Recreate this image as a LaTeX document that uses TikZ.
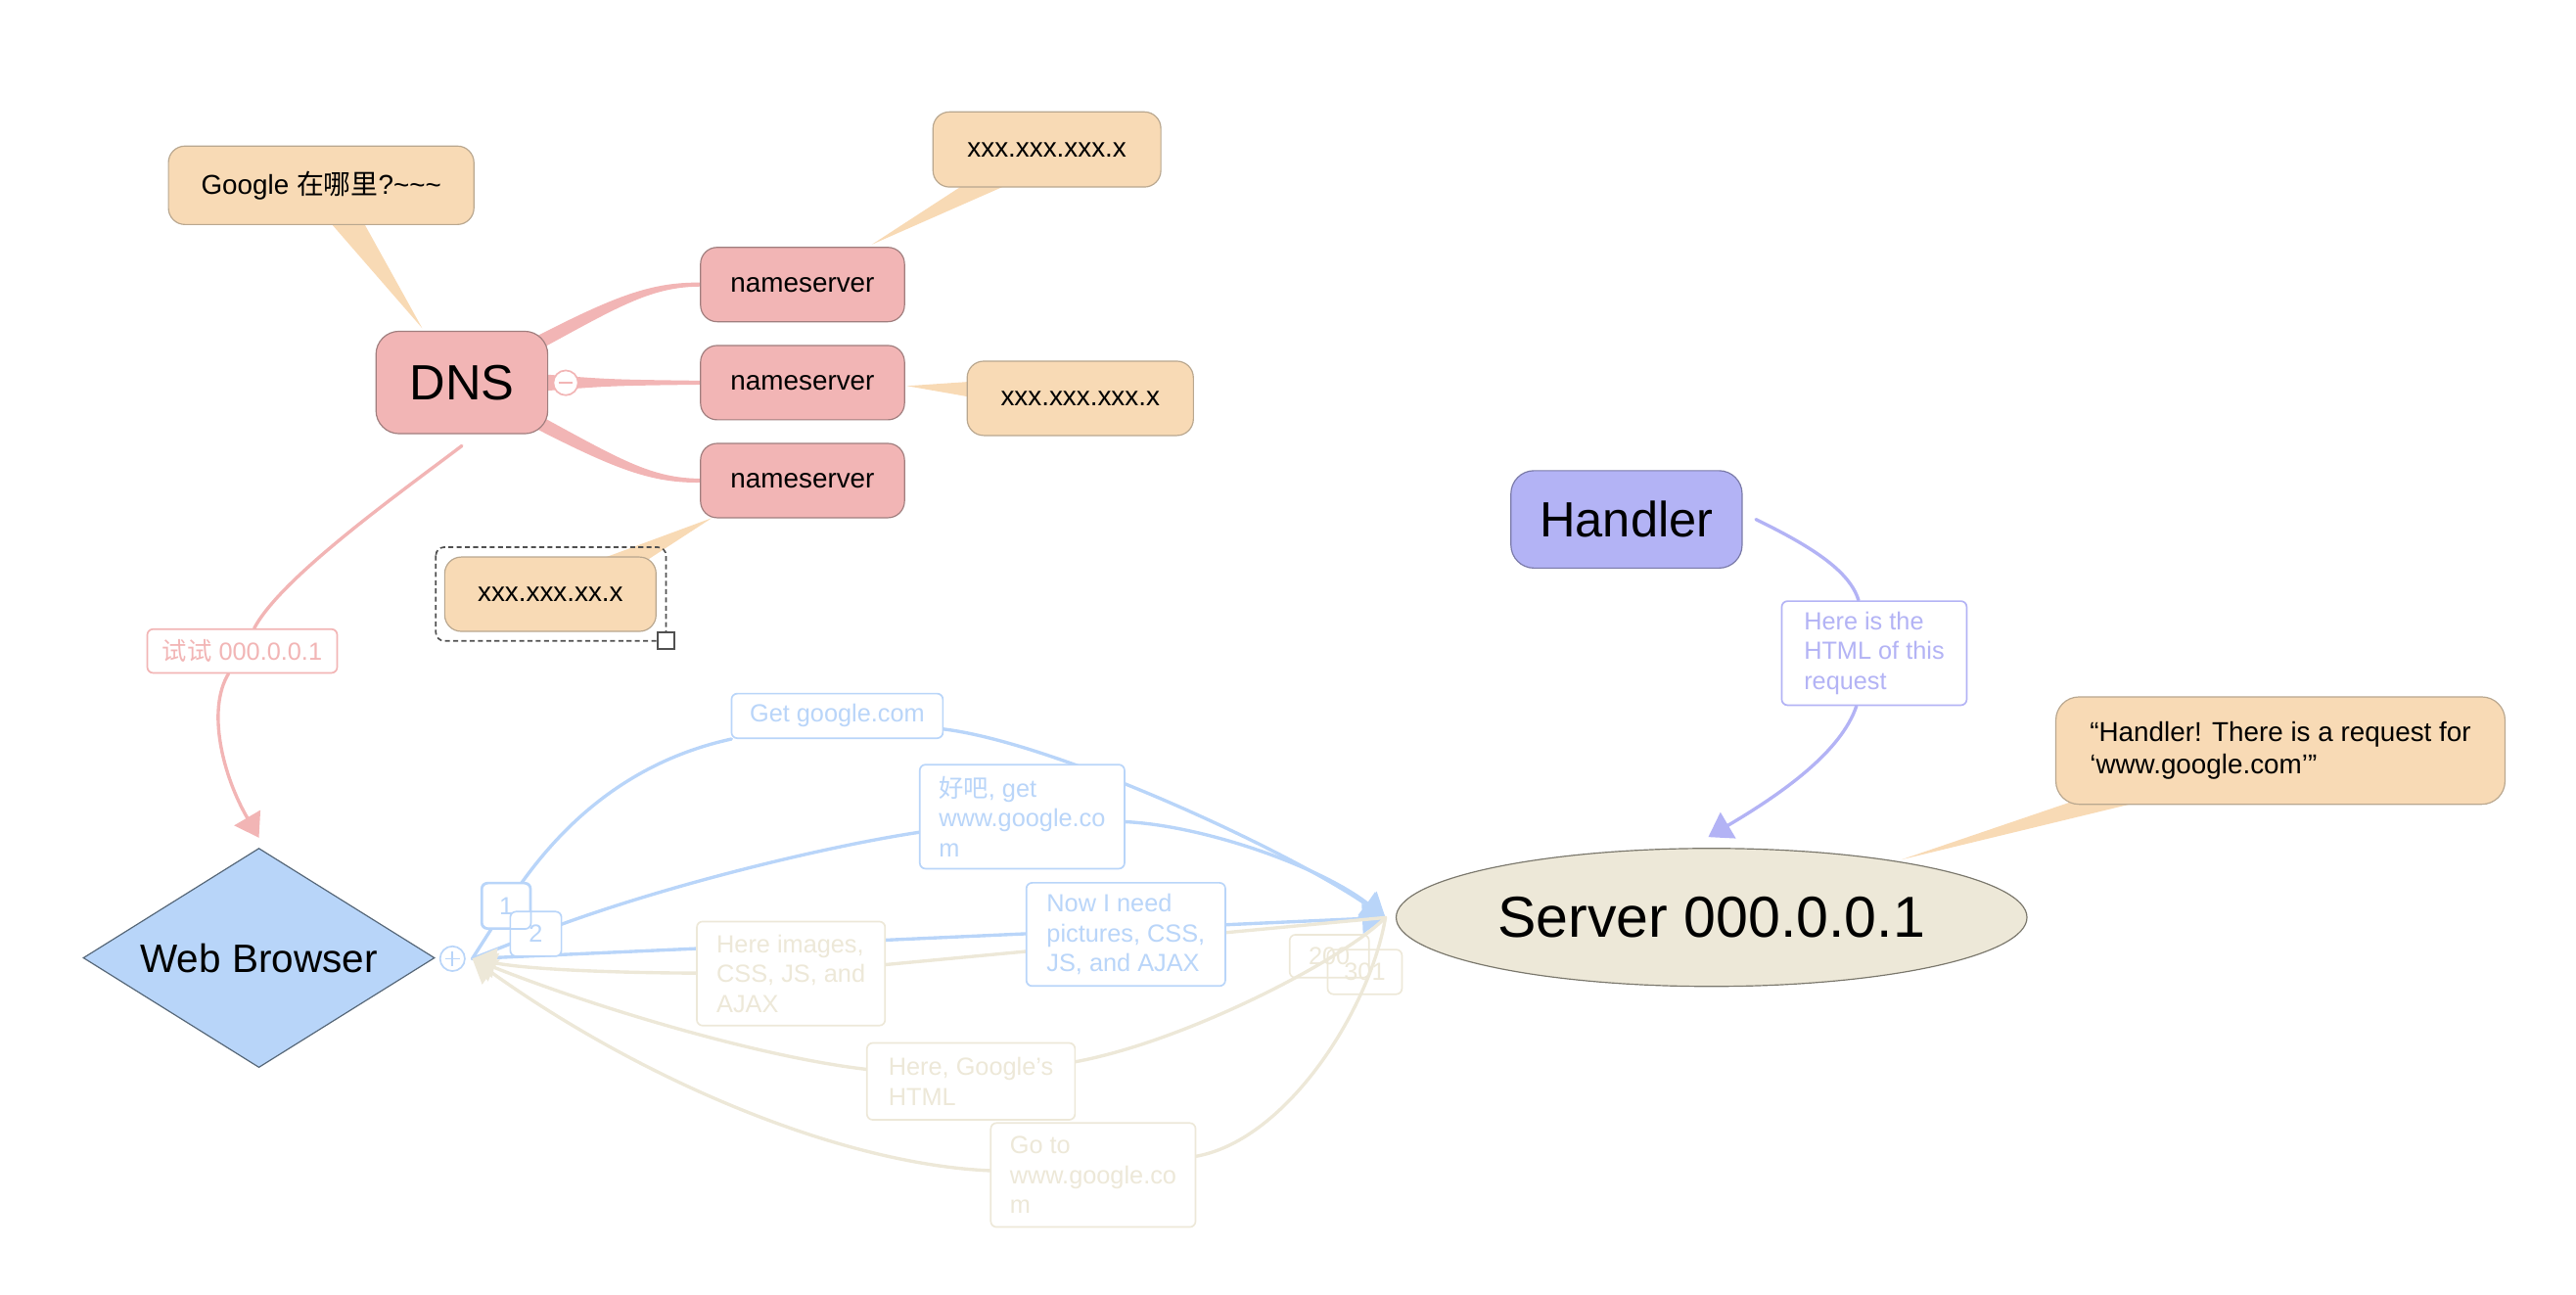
\documentclass[tikz,border=0pt]{standalone}
\usepackage{fontspec}
\setmainfont{Liberation Sans}
\newfontfamily\cjk{Noto Sans CJK SC}
\usetikzlibrary{arrows.meta,shapes.geometric,backgrounds,calc}
\definecolor{cPink}{HTML}{F2B5B5}
\definecolor{cPinkB}{HTML}{A07E7E}
\definecolor{cPeach}{HTML}{F8DAB5}
\definecolor{cPeachB}{HTML}{B9A78F}
\definecolor{cLav}{HTML}{B3B3F5}
\definecolor{cLavB}{HTML}{7A7AA8}
\definecolor{cSky}{HTML}{B8D5F9}
\definecolor{cSkyB}{HTML}{556677}
\definecolor{cBlue}{HTML}{B9D5F9}
\definecolor{cBeige}{HTML}{EDE8D8}
\definecolor{cBeigeB}{HTML}{7A776C}
\definecolor{cSel}{HTML}{505050}
\newcommand\lblfont{\fontsize{15}{18}\selectfont}
\newcommand\nodefont{\fontsize{16.5}{20}\selectfont}
\begin{document}
\begin{tikzpicture}[x=1pt,y=-1pt,
  nsbox/.style={rectangle, rounded corners=10pt, draw=cPinkB, line width=0.7pt, fill=cPink, font=\nodefont, minimum width=123.5pt, minimum height=45pt, inner sep=0pt},
  bubble/.style={rectangle, rounded corners=10pt, draw=cPeachB, line width=0.7pt, fill=cPeach, font=\nodefont, inner sep=0pt},
  lbl/.style={rectangle, rounded corners=3.5pt, line width=1pt, fill=white, font=\lblfont, align=left, inner sep=0pt},
  lblblue/.style={lbl, draw=cBlue, text=cBlue},
  lblbeige/.style={lbl, draw=cBeige, text=cBeige},
  lblpink/.style={lbl, draw=cPink, text=cPink},
  lbllav/.style={lbl, draw=cLav, text=cLav},
  con/.style={line width=2pt, line cap=round},
  arr/.style={-{Triangle[length=14pt,width=18pt]}}
]
\useasboundingbox (0,0) rectangle (1560,783.6);

% ---------- nodes ----------
\node[bubble, minimum width=185pt, minimum height=47.5pt] (gbub) at (194.5,112.2) {Google {\cjk 在哪里}?\textasciitilde\textasciitilde\textasciitilde};
\node[bubble, minimum width=138pt, minimum height=45.5pt] (xtop) at (634,90.5) {xxx.xxx.xxx.x};
\node[rectangle, rounded corners=14pt, draw=cPinkB, line width=0.7pt, fill=cPink, minimum width=104pt, minimum height=62pt, inner sep=0pt, font=\fontsize{30}{34}\selectfont] (dns) at (279.7,231.6) {DNS};
\node[nsbox] (ns1) at (486,172.3) {nameserver};
\node[nsbox] (ns2) at (486,231.7) {nameserver};
\node[nsbox] (ns3) at (486,291) {nameserver};
\node[bubble, minimum width=137pt, minimum height=45pt] (xright) at (654.2,241.2) {xxx.xxx.xxx.x};
\node[bubble, minimum width=128pt, minimum height=45pt] (xsel) at (333.3,359.8) {xxx.xxx.xx.x};
\node[lblpink, minimum width=115pt, minimum height=26.5pt] (l1) at (146.7,394.2) {{\cjk 试试} 000.0.0.1};

\node[diamond, draw=cSkyB, fill=cSky, line width=0.7pt, minimum width=212.8pt, minimum height=132.8pt, aspect=1.6, inner sep=0pt, font=\fontsize{24}{28}\selectfont] (browser) at (156.8,580) {Web Browser};

\node[rectangle, rounded corners=14pt, draw=cLavB, fill=cLav, line width=0.7pt, minimum width=140pt, minimum height=59pt, inner sep=0pt, font=\fontsize{30}{34}\selectfont] (handler) at (985,314.5) {Handler};
\node[lbllav, minimum width=112pt, minimum height=63pt] (lh) at (1135,395.5) {Here is the\\HTML of this\\request};
\node[bubble, rounded corners=14pt, align=left, minimum width=272pt, minimum height=65pt] (hbub) at (1381,454.5) {“Handler! There is a request for\\‘www.google.com’”};
\node[ellipse, draw=cBeigeB, fill=cBeige, line width=0.7pt, minimum width=382pt, minimum height=83.6pt, inner sep=0pt, font=\fontsize{35}{40}\selectfont] (server) at (1036.5,555.5) {Server 000.0.0.1};

\node[lblblue, minimum width=128pt, minimum height=27pt] (lget) at (507,433.5) {Get google.com};
\node[lblblue, minimum width=124pt, minimum height=63pt] (lhao) at (619,494.5) {{\cjk 好吧}, get\\www.google.co\\m};
\node[lblblue, minimum width=120.5pt, minimum height=62.5pt] (lnow) at (681.8,565.8) {Now I need\\pictures, CSS,\\JS, and AJAX};
\node[lblbeige, minimum width=114pt, minimum height=63pt] (limg) at (479,589.5) {Here images,\\CSS, JS, and\\AJAX};
\node[lblbeige, minimum width=126pt, minimum height=46.5pt] (lhtml) at (588,654.8) {Here, Google’s\\HTML};
\node[lblbeige, minimum width=124pt, minimum height=63pt] (lgo) at (662,711.5) {Go to\\www.google.co\\m};
\node[lblbeige, fill=none, minimum width=48pt, minimum height=26pt] (b200) at (805,579) {200};
\node[lblbeige, fill=none, minimum width=45pt, minimum height=27pt] (b301) at (826.5,588.5) {301};
\node[lblblue, minimum width=29pt, minimum height=27pt] (b1) at (306.5,548.5) {1};
\node[lblblue, minimum width=31pt, minimum height=27pt] (b2) at (324.5,565.5) {2};
\draw[cBlue, line width=1pt, rounded corners=3.5pt] (b1.south west) rectangle (b1.north east);

\node[circle, draw=cBlue, fill=white, line width=1pt, minimum size=15pt, inner sep=0pt] (plus) at (274,580.5) {};
\draw[cBlue, line width=1pt] ($(plus.center)+(-4.5,0)$) -- ($(plus.center)+(4.5,0)$) ($(plus.center)+(0,-4.5)$) -- ($(plus.center)+(0,4.5)$);
\node[circle, draw=cPink, fill=white, line width=1pt, minimum size=15pt, inner sep=0pt] (minus) at (342.6,231.8) {};
\draw[cPink, line width=1pt] ($(minus.center)+(-4.3,0)$) -- ($(minus.center)+(4.3,0)$);

\draw[cSel, line width=1pt, dash pattern=on 3pt off 2pt, rounded corners=5pt] ($(xsel.north west)+(-5,-5.6)$) rectangle ($(xsel.south east)+(5.7,5.4)$);
\node[draw=cSel, fill=white, line width=1pt, minimum size=10pt, inner sep=0pt] (handle) at ($(xsel.south east)+(5.7,5.4)$) {};

\coordinate (B) at (286,580.5);
\coordinate (S) at (839,555.6);

% ---------- connectors ----------
\begin{scope}[on background layer]
% callout wedges
\fill[cPeach] ($(gbub.south)+(6,-1)$) -- ($(gbub.south)+(26,-1)$) -- ($(dns.north)+(-24,-1.5)$) -- cycle;
\fill[cPeach] ($(xtop.south)+(-51.5,-1)$) -- ($(xtop.south)+(-25.5,-1)$) -- ($(ns1.north)+(42,-1.4)$) -- cycle;
\fill[cPeach] ($(xright.west)+(1,-10)$) -- ($(xright.west)+(1,-1)$) -- ($(ns2.east)+(1.2,2)$) -- cycle;
\fill[cPeach] ($(ns3.south west)+(7.2,-0.2)$) -- ($(xsel.north)+(30.7,1.5)$) -- ($(xsel.north)+(59.7,1.5)$) -- cycle;
\fill[cPeach] ($(hbub.south)+(-127.6,-1.5)$) -- ($(hbub.south)+(-86.4,-1.5)$) -- ($(server.center)+(115,-35)$) -- cycle;
% mind-map branches
\fill[cPink] (318,214) -- (326.1,203) .. controls (373.5,178.8) and (395,170.8) .. ($(ns1.west)+(0,-1.2)$) -- ($(ns1.west)+(0,1.2)$) .. controls (395,173.8) and (376.5,184.6) .. (329.9,210) -- cycle;
\fill[cPink] (318,249.3) -- (329.9,253.3) .. controls (376.5,278.7) and (395,289.5) .. ($(ns3.west)+(0,-1.2)$) -- ($(ns3.west)+(0,1.2)$) .. controls (395,292.5) and (373.5,284.5) .. (326.1,260.3) -- cycle;
\fill[cPink] (325,227) -- (331,226.8) .. controls (370,229.8) .. ($(ns2.west)+(0,-1.2)$) -- ($(ns2.west)+(0,1.2)$) .. controls (370,233.6) .. (331,236.6) -- (325,236.4) -- cycle;
% DNS -> browser
\draw[con, cPink] ($(dns.south)+(0,7)$) .. controls (240,300) and (170,350) .. (l1);
\draw[con, cPink, arr] (l1) .. controls (125,430) and (135,470) .. ($(browser.north)+(0,-6)$);
% handler -> server
\draw[con, cLav] ($(handler.east)+(8,0)$) .. controls (1095,330) and (1120,345) .. (lh);
\draw[con, cLav, arr] (lh) .. controls (1115,455) and (1080,480) .. ($(server.north)+(-2,-6.5)$);
% browser -> server (blue)
\draw[con, cBlue] (B) -- (b1.center);
\draw[con, cBlue] (b1.center) .. controls (331,510) and (372,463) .. (lget);
\draw[con, cBlue, arr] (lget) .. controls (640,450) and (780,515) .. (S);
\draw[con, cBlue] (B) -- (b2.center);
\draw[con, cBlue] (b2.center) .. controls (395,538) and (497,513) .. (lhao);
\draw[con, cBlue, arr] (lhao) .. controls (730,500) and (800,525) .. (S);
\draw[con, cBlue, arr] (B) -- (S);
% server -> browser (beige)
\draw[con, cBeige] (S) -- (limg);
\draw[con, cBeige, arr] (limg) .. controls (370,589) and (320,587) .. (B);
\draw[con, cBeige] (S) .. controls (815,580) and (720,630) .. (lhtml);
\draw[con, cBeige, arr] (lhtml) .. controls (460,640) and (360,610) .. (B);
\draw[con, cBeige] (S) .. controls (830,610) and (780,690) .. (lgo);
\draw[con, cBeige, arr] (lgo) .. controls (510,705) and (390,655) .. (B);
\end{scope}
\end{tikzpicture}
\end{document}
